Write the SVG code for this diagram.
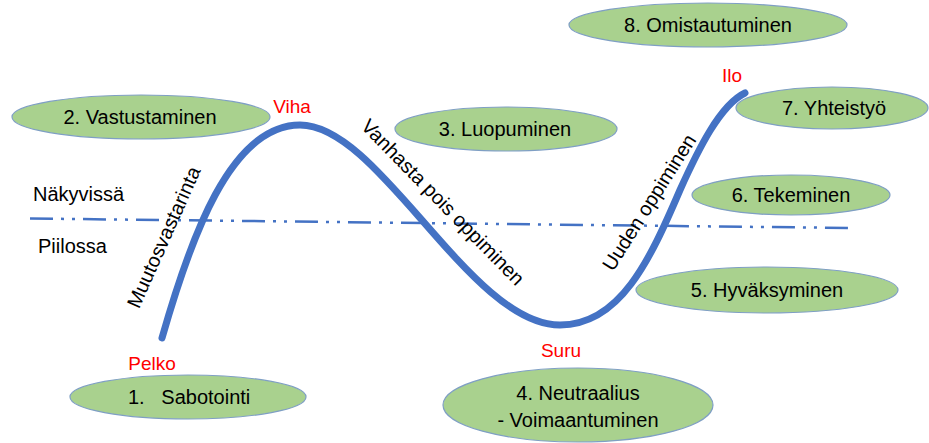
<svg xmlns="http://www.w3.org/2000/svg" width="929" height="443" viewBox="0 0 929 443">
<style>
.node ellipse{fill:#A9D18E;stroke:#7F9FC4;stroke-width:1.2}
.t{font-family:"Liberation Sans",Arial,sans-serif;font-size:20px;fill:#000}
.c{text-anchor:middle}
.r{font-family:"Liberation Sans",Arial,sans-serif;font-size:19px;fill:#FF0000;text-anchor:middle}
.curve{fill:none;stroke:#4472C4;stroke-width:7;stroke-linecap:round}
.dash{fill:none;stroke:#4472C4;stroke-width:2.5;stroke-dasharray:23 8 3 8 3 8}
</style>
<rect width="929" height="443" fill="#FFFFFF"/>
<g id="connectors">
<path class="dash" d="M30,218.5 L850,228"/>
<path class="curve" d="M162,338 C190,240 230,125 300,125 C380,125 470,325 560,325 C620,325 650,260 680,190 C698,150 720,105 745,93"/>
</g>
<g id="labels">
<text class="t" x="33" y="201">Näkyvissä</text>
<text class="t" x="38" y="253">Piilossa</text>
<text class="t c" transform="translate(170,240) rotate(-66)">Muutosvastarinta</text>
<text class="t c" transform="translate(438,207) rotate(45.6)">Vanhasta pois oppiminen</text>
<text class="t c" transform="translate(655,206) rotate(-57.7)">Uuden oppiminen</text>
<text class="r" x="292" y="113">Viha</text>
<text class="r" x="152" y="370">Pelko</text>
<text class="r" x="561" y="357">Suru</text>
<text class="r" x="732" y="82">Ilo</text>
</g>
<g id="n1" class="node"><ellipse cx="188" cy="397" rx="118" ry="22"/><text class="t" x="128" y="404" style="white-space:pre">1.   Sabotointi</text></g>
<g id="n2" class="node"><ellipse cx="141" cy="117" rx="129" ry="22"/><text class="t c" x="140" y="124">2. Vastustaminen</text></g>
<g id="n3" class="node"><ellipse cx="506" cy="129" rx="111" ry="22"/><text class="t c" x="505" y="136">3. Luopuminen</text></g>
<g id="n4" class="node"><ellipse cx="578" cy="405" rx="135" ry="37"/><text class="t c" x="578" y="400">4. Neutraalius</text><text class="t c" x="578" y="427">- Voimaantuminen</text></g>
<g id="n5" class="node"><ellipse cx="767" cy="290" rx="131" ry="23"/><text class="t c" x="767" y="297">5. Hyväksyminen</text></g>
<g id="n6" class="node"><ellipse cx="791" cy="195" rx="99" ry="20"/><text class="t c" x="791" y="202">6. Tekeminen</text></g>
<g id="n7" class="node"><ellipse cx="832" cy="108" rx="96" ry="21"/><text class="t c" x="834" y="115">7. Yhteistyö</text></g>
<g id="n8" class="node"><ellipse cx="708" cy="25" rx="139" ry="22"/><text class="t c" x="708" y="32">8. Omistautuminen</text></g>
</svg>
